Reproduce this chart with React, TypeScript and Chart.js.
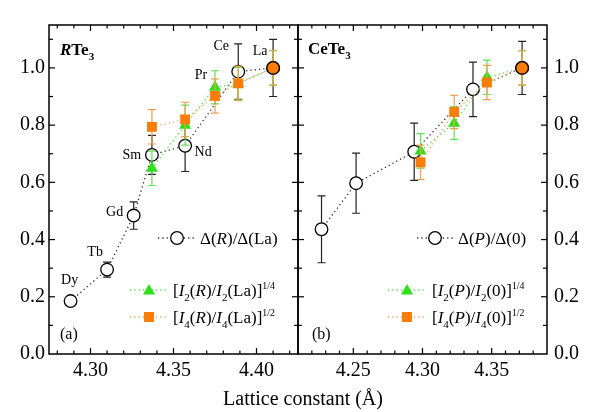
import React, { useEffect, useRef } from 'react';
import { Chart, registerables } from 'chart.js';
Chart.register(...registerables);

// ---------- data ----------
const rareEarths = ['Dy', 'Tb', 'Gd', 'Sm', 'Nd', 'Pr', 'Ce', 'La'];
const latticeR = [4.288, 4.310, 4.326, 4.337, 4.357, 4.375, 4.389, 4.410];
const gapR = [0.185, 0.295, 0.484, 0.696, 0.728, null, 0.987, 1.0];
const gapRErr = [0.01, 0.026, 0.048, 0.068, 0.09, null, 0.097, 0.1];
const i2R = [null, null, null, 0.649, 0.8, 0.932, 0.945, 1.0];
const i2RErr = [null, null, null, 0.06, 0.07, 0.058, 0.057, 0.06];
const i4R = [null, null, null, 0.794, 0.82, 0.902, 0.946, 1.0];
const i4RErr = [null, null, null, 0.06, 0.06, 0.06, 0.06, 0.06];

const latticeGapP = [4.227, 4.252, 4.294, 4.3365, 4.372];
const gapP = [0.436, 0.597, 0.707, 0.925, 1.0];
const gapPErr = [0.117, 0.105, 0.1, 0.095, 0.093];
const latticeIP = [4.2986, 4.3229, 4.3466, 4.372];
const i2P = [0.71, 0.807, 0.967, 1.0];
const i2PErr = [0.06, 0.057, 0.06, 0.06];
const i4P = [0.67, 0.846, 0.949, 1.0];
const i4PErr = [0.06, 0.058, 0.06, 0.06];

const xTicksLeft = [4.3, 4.35, 4.4];
const xTicksRight = [4.25, 4.3, 4.35];
const yTicks = [0, 0.2, 0.4, 0.6, 0.8, 1.0];

// ---------- styles ----------
const FONT = '"Liberation Serif", "Times New Roman", serif';
const GREEN = '#2ee01c';
const GREEN_ERR = '#62de5a';
const GREEN_LINE = '#55dd4a';
const ORANGE = '#fa7d0a';
const ORANGE_ERR = '#eea04e';
const ORANGE_LINE = '#f3a45a';
const DARK_LINE = '#333';

type Seg = { t: string; i?: boolean; b?: boolean; sub?: boolean; sup?: boolean };

function drawRich(ctx: CanvasRenderingContext2D, segs: Seg[], x: number, y: number, size: number) {
  let cx = x;
  ctx.textAlign = 'left';
  ctx.textBaseline = 'alphabetic';
  for (const s of segs) {
    const fs = s.sub ? size * 0.65 : s.sup ? size * 0.58 : size;
    ctx.font = `${s.i ? 'italic ' : ''}${s.b ? 'bold ' : ''}${fs}px ${FONT}`;
    const dy = s.sub ? size * 0.27 : s.sup ? -size * 0.42 : 0;
    ctx.fillText(s.t, cx, y + dy);
    cx += ctx.measureText(s.t).width;
  }
}

function pts(xs: number[], ys: (number | null)[], es: (number | null)[]) {
  const out: { x: number; y: number; e: number }[] = [];
  ys.forEach((v, i) => {
    if (v !== null) out.push({ x: xs[i], y: v, e: es[i] ?? 0 });
  });
  return out;
}

function drawMarker(ctx: CanvasRenderingContext2D, kind: string, x: number, y: number) {
  ctx.save();
  ctx.beginPath();
  if (kind === 'circle') {
    ctx.arc(x, y, 6.3, 0, Math.PI * 2);
    ctx.fillStyle = '#fff';
    ctx.fill();
    ctx.lineWidth = 1.3;
    ctx.strokeStyle = '#000';
    ctx.stroke();
  } else if (kind === 'triangle') {
    const r = 7;
    ctx.moveTo(x, y - r);
    ctx.lineTo(x + r * Math.sin((2 * Math.PI) / 3), y + r / 2);
    ctx.lineTo(x - r * Math.sin((2 * Math.PI) / 3), y + r / 2);
    ctx.closePath();
    ctx.fillStyle = GREEN;
    ctx.fill();
  } else {
    const h = 5;
    ctx.rect(x - h, y - h, 2 * h, 2 * h);
    ctx.fillStyle = ORANGE;
    ctx.fill();
  }
  ctx.restore();
}

function dotted(ctx: CanvasRenderingContext2D, x1: number, x2: number, y: number, color: string) {
  ctx.save();
  ctx.strokeStyle = color;
  ctx.lineWidth = 1.3;
  ctx.setLineDash([1.3, 3]);
  ctx.beginPath();
  ctx.moveTo(x1, y);
  ctx.lineTo(x2, y);
  ctx.stroke();
  ctx.restore();
}

const frameTicks = {
  id: 'frameTicks',
  afterDraw(chart: any) {
    const { ctx, chartArea: a, scales } = chart;
    const xs = scales.x;
    const ys = scales.y;
    ctx.save();
    ctx.strokeStyle = '#000';
    ctx.lineWidth = 1.2;
    const line = (x1: number, y1: number, x2: number, y2: number) => {
      ctx.beginPath();
      ctx.moveTo(x1, y1);
      ctx.lineTo(x2, y2);
      ctx.stroke();
    };
    const lo = Math.ceil(xs.min * 100 - 1e-6);
    const hi = Math.floor(xs.max * 100 + 1e-6);
    for (let v = lo; v <= hi; v++) {
      const px = xs.getPixelForValue(v / 100);
      if (px <= a.left + 1 || px >= a.right - 1) continue;
      const L = v % 5 === 0 ? 6 : 3.5;
      line(px, a.bottom, px, a.bottom - L);
      line(px, a.top, px, a.top + L);
    }
    for (let v = 1; v <= Math.floor(ys.max * 10 + 1e-6); v++) {
      const py = ys.getPixelForValue(v / 10);
      const L = v % 2 === 0 ? 6 : 4;
      line(a.left, py, a.left + L, py);
      line(a.right, py, a.right - L, py);
    }
    ctx.lineWidth = 1.5;
    ctx.strokeRect(a.left, a.top, a.right - a.left, a.bottom - a.top);
    ctx.restore();
  },
};

const errorBars = {
  id: 'errorBars',
  beforeDatasetDraw(chart: any, args: any) {
    const ds = chart.data.datasets[args.index];
    if (!ds.errColor) return;
    const { ctx } = chart;
    const ys = chart.scales.y;
    ctx.save();
    ctx.strokeStyle = ds.errColor;
    ctx.lineWidth = 1.2;
    args.meta.data.forEach((el: any, i: number) => {
      const raw = ds.data[i];
      if (!raw || !raw.e) return;
      const x = el.x;
      const yt = ys.getPixelForValue(raw.y + raw.e);
      const yb = ys.getPixelForValue(raw.y - raw.e);
      ctx.beginPath();
      ctx.moveTo(x, yt);
      ctx.lineTo(x, yb);
      ctx.moveTo(x - 4, yt);
      ctx.lineTo(x + 4, yt);
      ctx.moveTo(x - 4, yb);
      ctx.lineTo(x + 4, yb);
      ctx.stroke();
    });
    ctx.restore();
  },
};

function lineDataset(data: any[], opts: any) {
  return {
    data,
    showLine: true,
    borderDash: [1.3, 3],
    borderWidth: 1.3,
    pointBorderWidth: 1.3,
    clip: false,
    ...opts,
  };
}

function buildDatasets(circ: any[], tri: any[], sq: any[]) {
  const n = sq.length;
  return [
    lineDataset(sq, {
      order: 0,
      borderColor: ORANGE_LINE,
      errColor: ORANGE_ERR,
      pointStyle: sq.map((_, i) => (i === n - 1 ? 'circle' : 'rect')),
      pointRadius: sq.map((_, i) => (i === n - 1 ? 6.3 : 7)),
      pointBackgroundColor: ORANGE,
      pointBorderColor: sq.map((_, i) => (i === n - 1 ? '#000' : ORANGE)),
      pointBorderWidth: sq.map((_, i) => (i === n - 1 ? 1.3 : 0)),
    }),
    lineDataset(tri, {
      order: 1,
      borderColor: GREEN_LINE,
      errColor: GREEN_ERR,
      pointStyle: 'triangle',
      pointRadius: 7,
      pointBackgroundColor: GREEN,
      pointBorderColor: GREEN,
      pointBorderWidth: 0,
    }),
    lineDataset(circ, {
      order: 2,
      borderColor: DARK_LINE,
      errColor: '#222',
      pointStyle: 'circle',
      pointRadius: 6.3,
      pointBackgroundColor: '#fff',
      pointBorderColor: '#000',
    }),
  ];
}

function baseOptions(xmin: number, xmax: number, xticks: number[], yPos: 'left' | 'right', yWidth: number, yPad: number, pad: any) {
  const tickFont = { family: FONT, size: 20 };
  return {
    animation: false,
    responsive: false,
    devicePixelRatio: 1,
    layout: { padding: pad, autoPadding: false },
    plugins: { legend: { display: false }, tooltip: { enabled: false } },
    scales: {
      x: {
        type: 'linear',
        min: xmin,
        max: xmax,
        grid: { display: false, drawTicks: false },
        border: { display: false },
        afterBuildTicks: (s: any) => {
          s.ticks = xticks.map((v) => ({ value: v }));
        },
        afterFit: (s: any) => {
          s.height = 58;
        },
        ticks: {
          font: tickFont,
          color: '#000',
          padding: 5,
          autoSkip: false,
          maxRotation: 0,
          callback: (v: any) => Number(v).toFixed(2),
        },
      },
      y: {
        type: 'linear',
        position: yPos,
        min: 0,
        max: 1.15,
        grid: { display: false, drawTicks: false },
        border: { display: false },
        afterBuildTicks: (s: any) => {
          s.ticks = yTicks.map((v) => ({ value: v }));
        },
        afterFit: (s: any) => {
          s.width = yWidth;
        },
        ticks: {
          font: tickFont,
          color: '#000',
          padding: yPad,
          callback: (v: any) => Number(v).toFixed(1),
        },
      },
    },
  };
}

const labelOffsets: Record<string, [number, number]> = {
  Dy: [-1, -21],
  Tb: [-12, -17],
  Gd: [-19, -3],
  Sm: [-20, 0],
  Nd: [18, 7],
  Pr: [-14, -12],
  Ce: [-17, -25],
  La: [-13, -17],
};

const leftAnnot = {
  id: 'leftAnnot',
  afterDraw(chart: any) {
    const { ctx, scales } = chart;
    ctx.save();
    ctx.fillStyle = '#000';
    ctx.font = `14px ${FONT}`;
    ctx.textAlign = 'center';
    ctx.textBaseline = 'middle';
    rareEarths.forEach((name, i) => {
      const yv = gapR[i] ?? i2R[i];
      if (yv === null) return;
      const px = scales.x.getPixelForValue(latticeR[i]);
      const py = scales.y.getPixelForValue(yv);
      const [dx, dy] = labelOffsets[name];
      ctx.fillText(name, px + dx, py + dy);
    });
    drawRich(ctx, [{ t: 'R', i: true, b: true }, { t: 'Te', b: true }, { t: '3', b: true, sub: true }], 60, 55, 17);
    drawRich(ctx, [{ t: '(a)' }], 60, 339, 16);
    // legend
    dotted(ctx, 158, 195, 238, DARK_LINE);
    drawMarker(ctx, 'circle', 177, 238);
    drawRich(ctx, [{ t: 'Δ(' }, { t: 'R', i: true }, { t: ')/Δ(La)' }], 200, 244, 17);
    dotted(ctx, 130, 167, 290, GREEN_LINE);
    drawMarker(ctx, 'triangle', 149, 291);
    drawRich(ctx, [{ t: '[' }, { t: 'I', i: true }, { t: '2', sub: true }, { t: '(' }, { t: 'R', i: true }, { t: ')/' }, { t: 'I', i: true }, { t: '2', sub: true }, { t: '(La)]' }, { t: '1/4', sup: true }], 173, 296, 17);
    dotted(ctx, 130, 167, 317, ORANGE_LINE);
    drawMarker(ctx, 'rect', 149, 317);
    drawRich(ctx, [{ t: '[' }, { t: 'I', i: true }, { t: '4', sub: true }, { t: '(' }, { t: 'R', i: true }, { t: ')/' }, { t: 'I', i: true }, { t: '4', sub: true }, { t: '(La)]' }, { t: '1/2', sup: true }], 173, 323, 17);
    ctx.restore();
  },
};

const rightAnnot = {
  id: 'rightAnnot',
  afterDraw(chart: any) {
    const { ctx } = chart;
    ctx.save();
    ctx.fillStyle = '#000';
    drawRich(ctx, [{ t: 'CeTe', b: true }, { t: '3', b: true, sub: true }], 18, 54, 17);
    drawRich(ctx, [{ t: '(b)' }], 22, 339, 16);
    dotted(ctx, 127, 163, 238, DARK_LINE);
    drawMarker(ctx, 'circle', 145, 238);
    drawRich(ctx, [{ t: 'Δ(' }, { t: 'P', i: true }, { t: ')/Δ(0)' }], 168, 244, 17);
    dotted(ctx, 98, 135, 290, GREEN_LINE);
    drawMarker(ctx, 'triangle', 117, 291);
    drawRich(ctx, [{ t: '[' }, { t: 'I', i: true }, { t: '2', sub: true }, { t: '(' }, { t: 'P', i: true }, { t: ')/' }, { t: 'I', i: true }, { t: '2', sub: true }, { t: '(0)]' }, { t: '1/4', sup: true }], 142, 296, 17);
    dotted(ctx, 98, 135, 317, ORANGE_LINE);
    drawMarker(ctx, 'rect', 117, 317);
    drawRich(ctx, [{ t: '[' }, { t: 'I', i: true }, { t: '4', sub: true }, { t: '(' }, { t: 'P', i: true }, { t: ')/' }, { t: 'I', i: true }, { t: '4', sub: true }, { t: '(0)]' }, { t: '1/2', sup: true }], 142, 323, 17);
    ctx.restore();
  },
};

export default function App() {
  const leftRef = useRef<HTMLCanvasElement>(null);
  const rightRef = useRef<HTMLCanvasElement>(null);

  useEffect(() => {
    const left = new Chart(leftRef.current as HTMLCanvasElement, {
      type: 'scatter',
      data: {
        datasets: buildDatasets(
          pts(latticeR, gapR, gapRErr),
          pts(latticeR, i2R, i2RErr),
          pts(latticeR, i4R, i4RErr)
        ) as any,
      },
      options: baseOptions(4.275, 4.425, xTicksLeft, 'left', 49, 4, { top: 25, right: 2, left: 0, bottom: 0 }) as any,
      plugins: [errorBars, frameTicks, leftAnnot],
    });
    const right = new Chart(rightRef.current as HTMLCanvasElement, {
      type: 'scatter',
      data: {
        datasets: buildDatasets(
          pts(latticeGapP, gapP, gapPErr),
          pts(latticeIP, i2P, i2PErr),
          pts(latticeIP, i4P, i4PErr)
        ) as any,
      },
      options: baseOptions(4.21, 4.39, xTicksRight, 'right', 53, 7, { top: 25, right: 0, left: 8, bottom: 0 }) as any,
      plugins: [errorBars, frameTicks, rightAnnot],
    });
    return () => {
      left.destroy();
      right.destroy();
    };
  }, []);

  return (
    <div style={{ position: 'absolute', left: 0, top: 0, width: 600, height: 412, background: '#fff' }}>
      <canvas ref={leftRef} width={300} height={412} style={{ position: 'absolute', left: 0, top: 0 }} />
      <canvas ref={rightRef} width={310} height={412} style={{ position: 'absolute', left: 290, top: 0 }} />
      <div
        style={{
          position: 'absolute',
          left: 0,
          top: 386,
          width: 606,
          textAlign: 'center',
          fontFamily: FONT,
          fontSize: 20,
          lineHeight: '24px',
          color: '#000',
        }}
      >
        Lattice constant (Å)
      </div>
    </div>
  );
}
